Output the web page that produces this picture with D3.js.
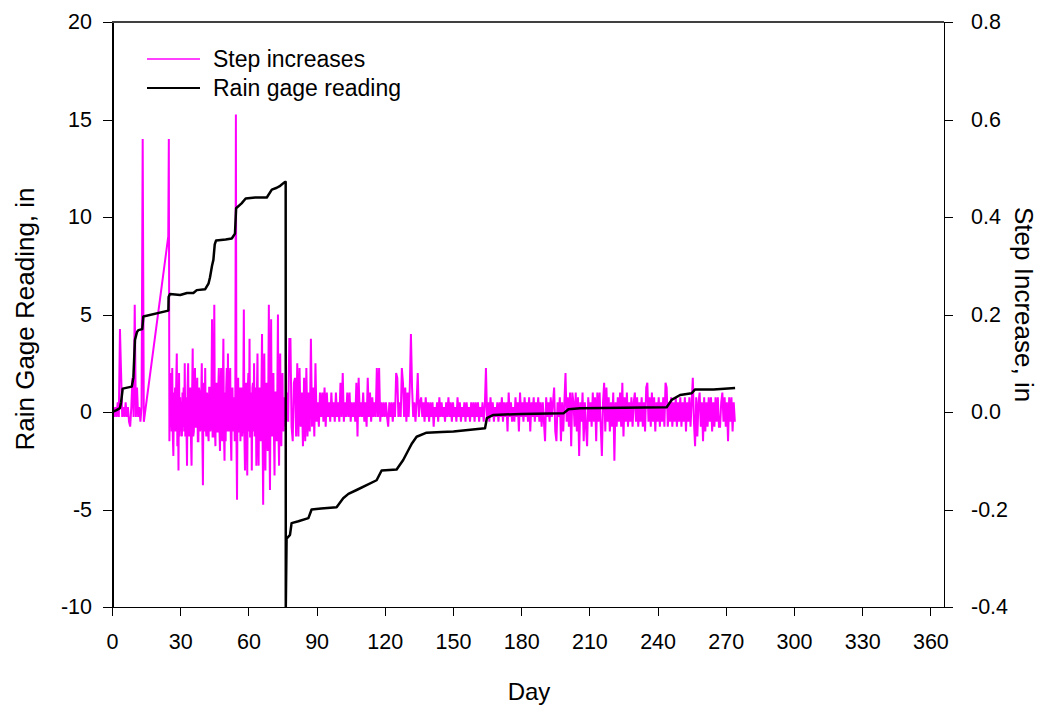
<!DOCTYPE html>
<html>
<head>
<meta charset="utf-8">
<script src="https://cdn.jsdelivr.net/npm/d3@7/dist/d3.min.js"></script>
<style>
	body { margin: 0; background: #fff; }
	svg text { font-family: "Liberation Sans", Arial, sans-serif; fill: #000; }
	.axis path, .axis line { stroke: #000; fill: none; shape-rendering: crispEdges; }
</style>
</head>
<body>
<svg id="chart" width="1042" height="707"></svg>
<script>
// ---- data ----
const dayTicks = [0, 30, 60, 90, 120, 150, 180, 210, 240, 270, 300, 330, 360];
const readingTicks = [-10, -5, 0, 5, 10, 15, 20];
const stepTicks = [-0.4, -0.2, 0.0, 0.2, 0.4, 0.6, 0.8];

// rain gage reading, [day, inches]
const rainGage = [
	[0, 0], [2, 0.1], [3.5, 0.2], [4, 0.5], [4.7, 1.2], [8.7, 1.3], [9.4, 1.75], [10.1, 3.7],
	[11, 4.1], [11.6, 4.2], [13.3, 4.25], [13.8, 4.9], [24.8, 5.2], [24.9, 5.9], [25.5, 6.05],
	[30, 6.0], [33, 6.1], [35.8, 6.1], [37.3, 6.25], [41, 6.3], [42.5, 6.6], [43.1, 6.9],
	[44, 7.5], [44.6, 7.8], [45.2, 8.6], [45.8, 8.8], [50, 8.85], [52.7, 8.9], [54.1, 9.15],
	[54.6, 10.45], [57, 10.7], [58.8, 10.95], [63, 11.0], [68.1, 11.0], [70.3, 11.4],
	[72.5, 11.5], [74, 11.6], [76.1, 11.8], [76.4, 11.8], [76.45, -10], [76.8, -6.5],
	[78.3, -6.3], [79, -5.7], [82, -5.6], [86.4, -5.44], [87.8, -5.0], [92, -4.95],
	[98.8, -4.88], [101.7, -4.42], [104, -4.2], [107.6, -4.0], [112, -3.75], [116.4, -3.5],
	[118.6, -3.0], [122, -2.97], [125.2, -2.95], [128.1, -2.46], [130.4, -1.95], [132, -1.6],
	[134, -1.27], [138.4, -1.06], [145, -1.02], [150.2, -1.0], [164.1, -0.83], [164.9, -0.32],
	[167.8, -0.15], [180, -0.1], [198.6, -0.07], [200.8, 0.14], [205.9, 0.19], [225, 0.22],
	[244, 0.24], [246.2, 0.62], [249.9, 0.87], [255, 0.96], [256.5, 1.16], [264.6, 1.16],
	[274.1, 1.23]
];

// step increases, hundredths of an inch, logged at a fixed interval
// days 0 - 14, every half day
const stepEarly = [
	0, 1, -1, 1, -1, 2, -1, 17, 8, -1, 1, -1, 2, -1, 1, -2, -3, 1, 7, -1,
	22, -1, 5, -1, 1, -2, 1, 56, -2
];
// days 24.75 - 77, every quarter day
const stepStormy = [
	36,
	56, -6, 4, -3,    8, -4, 9, -5,    -9, 4, -3, 5,    -4, 6, 12, -7,   3, -12, 8, -5,
	3, -4, 2, -5,     4, -3, 5, -4,    10, -5, 3, -3,   -11, 5, 10, -4,  -5, 3, 5, -6,
	-11, 4, 13, -5,   -4, 6, 9, -3,    -3, 4, 7, -6,    -6, 5, 4, -4,    -3, 3, 10, -5,
	-15, 5, 6, -4,    9, -3, -5, 4,    3, -4, -6, 5,    5, -4, -3, 3,    19, -5, -5, 4,
	22, -3, -7, 5,    6, -4, -4, 5,    9, -3, -8, 4,    9, -5, -6, 5,    15, -4, -10, 4,
	-6, 5, 9, -4,     12, -3, -4, 5,   9, -5, -10, 4,   5, -4, -3, 3,    -6, 4, 61, -5,
	-18, 5, 7, -4,    -4, 5, -6, 4,    5, -5, -3, 4,    21, -5, -12, 4,  6, -4, -13, 5,
	8, -4, 15, -5,    -5, 4, -12, 5,   6, -4, 10, -5,   -4, 5, -11, 4,   12, -5, -11, 4,
	5, -4, -6, 5,     16, -5, -19, 4,  12, -4, -12, 5,  6, -5, -8, 4,    22, -5, -16, 4,
	19, -4, -5, 5,    8, -5, -13, 4,   4, -4, -6, 5,    20, -5, -11, 4,  12, -4, -7, 5,
	8, -3, -4, 3,     2, -2, -3, 2,    4
];
// days 77.5 - 274, every half day
const stepLate = [
	-2, 15, 15, -3, -6,
	6, 7, -5, 10, -5, 9, -3, 4, -7, 7, -6, 9, -5, 4, -4, 15, -3, 5, -5, 10,
	-2, 2, -3, 4, -1, 4, -2, 5, -3, 4, -1, 2, -2, 4, -1, 2, -2, 4, -1, 2,
	-2, 6, -1, 8, -2, 2, -1, 4, -1, 4, -2, 2, -1, 2, -2, 6, -5, 7, -1, 2,
	-1, 4, -2, 2, -3, 7, -1, 4, -2, 3, -1, 2, -1, 9, -1, 9, -2, 2, -1, 2,
	-1, 2, -1, -3, 2, -1, 2, -2, 2, -1, 8, 7, -1, 2, -1, 9, 6, -1, 5, -2,
	4, -1, 5, 16, 5, -1, 2, -2, 2, 8, -1, 2, 3, -1, 2, -2, 3, -1, 2, -2,
	2, -1, 2, -3, 1, -1, 2, -2, 3, -1, 2, -1, 1, -2, 2, -1, 3, -1, 2, -2,
	2, -1, 1, -2, 3, -1, 2, -2, 1, -1, 2, -2, 2, -1, 1, -2, 2, -1, 2, -2,
	2, -1, 2, -2, 1, -1, 2, -2, 1, 9, -1, 2, -2, 3, -1, 2, -2, 1, -1, 2,
	-2, 2, -1, 3, -2, 2, -1, 2, -4, 4, -1, 2, -2, 1, -2, 3, -1, 2, -4, 4,
	-1, 2, -2, 3, -1, 2, -2, 3, -4, 2, -1, 3, -2, 2, -1, 3, -2, 2, -3, 2,
	-2, -6, 3, -1, 2, -2, 3, -1, 2, 5, -4, -6, 2, -1, 3, -6, 2, -4, 2, 8,
	-2, 3, -3, 4, -7, 4, 2, -3, 4, -4, 3, -9, 2, -2, 4, -6, 2, -3, -7, 3,
	-2, 2, -3, 4, -2, 3, -6, 4, -2, 4, -3, -9, 2, 6, -4, 5, -2, 3, -4, 2,
	-3, 4, -10, 2, -3, 3, -2, 4, -3, 6, -5, 3, -2, 4, -3, 2, -2, 3, -3, 2,
	4, -2, 3, -3, 2, -2, 3, -3, 2, -4, 5, 6, -2, 3, -3, 4, -2, 3, -4, 2,
	-2, 3, -3, 2, -2, 3, -3, 6, 5, -3, 2, -2, 3, -3, 2, -2, 3, -3, 2, -2,
	3, -3, 2, -2, 3, -4, 2, -2, 3, -3, 2, 7, -2, -7, 3, -5, 2, 4, -3, 2,
	-6, 3, -4, 2, -3, 3, -2, 3, -4, 2, -3, 3, -2, 3, -3, -3, 2, 4, -2, 3,
	-3, 2, -6, 3, -2, 3, -4, 2, -2
];
const stepSegments = [
	{ start: 0, interval: 0.5, values: stepEarly },
	{ start: 24.75, interval: 0.25, values: stepStormy },
	{ start: 77.5, interval: 0.5, values: stepLate }
];

// ---- chart ----
const svg = d3.select('#chart');
const plotL = 112, plotR = 944, plotT = 22, plotB = 607;

const x = d3.scaleLinear().domain([0, 366]).range([plotL, plotR]);
const yL = d3.scaleLinear().domain([-10, 20]).range([plotB, plotT]);
const yR = d3.scaleLinear().domain([-0.4, 0.8]).range([plotB, plotT]);

svg.append('defs').append('clipPath').attr('id', 'plot')
	.append('rect')
	.attr('x', plotL).attr('y', plotT - 1)
	.attr('width', plotR - plotL).attr('height', plotB - plotT + 2);

const steps = stepSegments.flatMap(s =>
	s.values.map((v, i) => ({ day: s.start + i * s.interval, v: v / 100 })));

const plot = svg.append('g').attr('clip-path', 'url(#plot)');

plot.append('path')
	.datum(steps)
	.attr('fill', 'none')
	.attr('stroke', '#ff00ff')
	.attr('stroke-width', 2)
	.attr('d', d3.line().x(d => x(d.day)).y(d => yR(d.v)));

plot.append('path')
	.datum(rainGage)
	.attr('fill', 'none')
	.attr('stroke', '#000')
	.attr('stroke-width', 2.5)
	.attr('stroke-linejoin', 'round')
	.attr('d', d3.line().x(d => x(d[0])).y(d => yL(d[1])));

// frame top
svg.append('line')
	.attr('x1', plotL).attr('x2', plotR)
	.attr('y1', plotT).attr('y2', plotT)
	.attr('stroke', '#000').attr('stroke-width', 1.5);

svg.append('g')
	.attr('class', 'axis x')
	.attr('transform', `translate(0, ${plotB})`)
	.call(d3.axisBottom(x).tickValues(dayTicks).tickSize(9).tickSizeOuter(0).tickPadding(18))
	.call(g => g.selectAll('text').attr('font-size', 21.5));

svg.append('g')
	.attr('class', 'axis yl')
	.attr('transform', `translate(${plotL}, 0)`)
	.call(d3.axisLeft(yL).tickValues(readingTicks).tickSize(9).tickSizeOuter(0).tickPadding(11)
		.tickFormat(d => String(d)))
	.call(g => g.select('.domain').attr('stroke-width', 2))
	.call(g => g.selectAll('text').attr('font-size', 21.5));

svg.append('g')
	.attr('class', 'axis yr')
	.attr('transform', `translate(${plotR}, 0)`)
	.call(d3.axisRight(yR).tickValues(stepTicks).tickSize(9).tickSizeOuter(0).tickPadding(18)
		.tickFormat(d => d.toFixed(1)))
	.call(g => g.select('.domain').attr('stroke', '#555').attr('stroke-width', 1.5))
	.call(g => g.selectAll('text').attr('font-size', 21.5));

// titles
svg.append('text')
	.attr('x', 529).attr('y', 700)
	.attr('text-anchor', 'middle')
	.attr('font-size', 24)
	.text('Day');

svg.append('text')
	.attr('transform', 'translate(34, 319) rotate(-90)')
	.attr('text-anchor', 'middle')
	.attr('font-size', 26)
	.text('Rain Gage Reading, in');

svg.append('text')
	.attr('transform', 'translate(1015, 207) rotate(90)')
	.attr('text-anchor', 'start')
	.attr('font-size', 26)
	.text('Step Increase, in');

// legend
const legend = [
	{ label: 'Step increases', color: '#ff00ff', width: 1.5 },
	{ label: 'Rain gage reading', color: '#000', width: 2 }
];
const lg = svg.append('g');
legend.forEach((d, i) => {
	const yy = 59 + i * 29;
	lg.append('line')
		.attr('x1', 147).attr('x2', 200)
		.attr('y1', yy).attr('y2', yy)
		.attr('stroke', d.color).attr('stroke-width', d.width);
	lg.append('text')
		.attr('x', 213).attr('y', yy)
		.attr('dy', '0.35em')
		.attr('font-size', 23)
		.text(d.label);
});
</script>
</body>
</html>
